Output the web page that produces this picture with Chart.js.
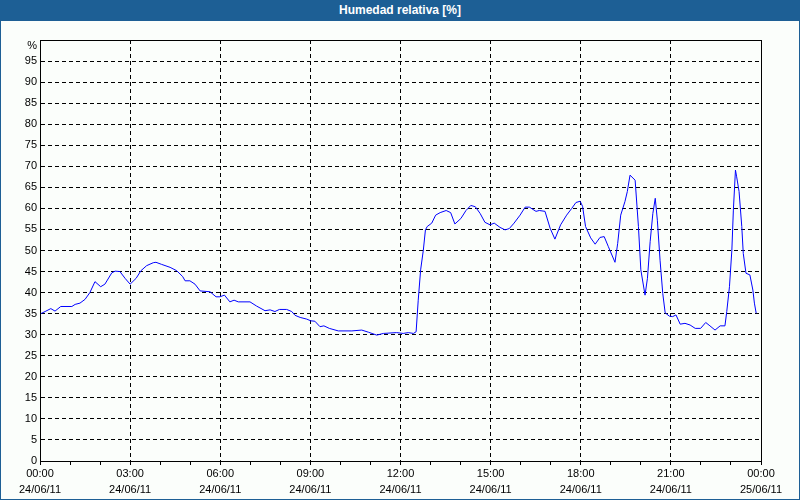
<!DOCTYPE html>
<html>
<head>
<meta charset="utf-8">
<script src="https://cdn.jsdelivr.net/npm/chart.js@4/dist/chart.umd.min.js"></script>
<style>
  html, body { margin: 0; padding: 0; background: #ffffff; }
  #wrap { position: relative; width: 800px; height: 500px; background: #fbfefb; box-sizing: border-box; border: 1px solid #1d5f95; border-top: none; }
  #bar { position: absolute; left: -1px; top: 0; width: 800px; height: 21px; background: #1d5f95; color: #ffffff;
         font: bold 12px "Liberation Sans", Arial, sans-serif; text-align: center; line-height: 21px; }
  #box { position: absolute; left: 0; top: 21px; width: 798px; height: 478px; }
</style>
</head>
<body>
<div id="wrap">
  <div id="bar">Humedad relativa [%]</div>
  <div id="box"><canvas id="c" width="798" height="478"></canvas></div>
</div>
<script>
// Time of each reading, in hours since 24/06/11 00:00
const hours = [
  0.00, 0.17, 0.36, 0.50, 0.69, 1.06, 1.17, 1.33, 1.50, 1.66, 1.83, 2.02, 2.16, 2.39, 2.50, 2.66, 2.83, 3.00,
  3.20, 3.36, 3.55, 3.77, 3.86, 4.05, 4.33, 4.55, 4.75, 4.83, 4.99, 5.16, 5.33, 5.66, 5.86, 5.99, 6.14, 6.32,
  6.46, 6.60, 6.99, 7.21, 7.49, 7.66, 7.82, 7.97, 8.21, 8.38, 8.49, 8.66, 8.88, 9.01, 9.15, 9.32, 9.45, 9.63,
  9.93, 10.38, 10.71, 10.93, 11.21, 11.43, 11.87, 12.09, 12.26, 12.43, 12.52, 12.59, 12.67, 12.76, 12.83, 12.89,
  13.04, 13.17, 13.32, 13.52, 13.67, 13.81, 14.01, 14.18, 14.34, 14.49, 14.65, 14.81, 14.98, 15.12, 15.31, 15.48,
  15.62, 15.78, 15.98, 16.15, 16.29, 16.51, 16.62, 16.81, 16.98, 17.14, 17.33, 17.53, 17.70, 17.84, 17.98, 18.06,
  18.16, 18.33, 18.48, 18.64, 18.78, 18.92, 19.14, 19.23, 19.33, 19.47, 19.55, 19.64, 19.81, 19.92, 20.00, 20.14,
  20.22, 20.31, 20.40, 20.48, 20.55, 20.64, 20.73, 20.81, 20.95, 21.06, 21.17, 21.31, 21.47, 21.64, 21.81, 21.99,
  22.16, 22.30, 22.47, 22.64, 22.80, 22.86, 22.95, 23.03, 23.08, 23.15, 23.19, 23.27, 23.36, 23.41, 23.50, 23.63,
  23.73, 23.78, 23.84
];
// Relative humidity (%)
const humidity = [
  34.9, 35.5, 36.2, 35.6, 36.7, 36.7, 37.2, 37.5, 38.4, 40.0, 42.6, 41.4, 42.0, 44.7, 45.1, 45.0, 43.4, 42.0,
  43.4, 45.2, 46.4, 47.1, 47.2, 46.7, 46.0, 45.2, 43.8, 42.8, 42.8, 42.0, 40.4, 40.2, 39.0, 39.0, 39.4, 37.8,
  38.2, 37.8, 37.8, 36.8, 35.7, 35.9, 35.5, 36.0, 36.0, 35.5, 34.6, 34.1, 33.7, 33.3, 33.2, 31.9, 32.1, 31.5,
  30.9, 30.9, 31.1, 30.6, 29.9, 30.3, 30.5, 30.3, 30.5, 30.3, 30.7, 38.2, 45.4, 50.1, 54.9, 55.7,
  56.5, 58.4, 59.0, 59.5, 59.0, 56.3, 57.6, 59.5, 60.7, 60.4, 58.8, 56.7, 56.1, 56.5, 55.5, 54.9,
  55.2, 56.5, 58.4, 60.3, 60.3, 59.3, 59.5, 59.3, 55.3, 52.7, 56.1, 58.4, 60.0, 61.4, 61.7, 60.5,
  55.7, 53.0, 51.5, 53.1, 53.3, 50.9, 47.2, 51.7, 58.4, 61.6, 64.0, 67.9, 66.7, 55.7, 45.4, 39.4,
  43.4, 52.1, 58.8, 62.4, 57.2, 47.7, 39.8, 35.2, 34.4, 34.3, 34.7, 32.5, 32.7, 32.3, 31.5, 31.5,
  32.9, 32.1, 31.1, 32.1, 32.1, 35.5, 41.4, 50.1, 59.6, 69.1, 67.5, 64.0, 55.7, 49.3, 44.6, 44.2,
  40.6, 37.5, 35.1
];
// Tick labels
const timeLabels = ['00:00', '03:00', '06:00', '09:00', '12:00', '15:00', '18:00', '21:00', '00:00'];
const dateLabels = ['24/06/11', '24/06/11', '24/06/11', '24/06/11', '24/06/11', '24/06/11', '24/06/11', '24/06/11', '25/06/11'];
const yUnitLabel = '%';

const FONT = '"Liberation Sans", Arial, sans-serif';

const framePlugin = {
  id: 'frame',
  afterDraw(chart) {
    const { ctx, chartArea: a } = chart;
    ctx.save();
    ctx.strokeStyle = '#000000';
    ctx.lineWidth = 1;
    ctx.strokeRect(Math.round(a.left) + 0.5, Math.round(a.top) + 0.5,
                   Math.round(a.right - a.left), Math.round(a.bottom - a.top));
    // unit label at the top of the value axis
    const ys = chart.scales.y;
    ctx.fillStyle = '#000000';
    ctx.font = '11px ' + FONT;
    ctx.textAlign = 'right';
    ctx.textBaseline = 'middle';
    ctx.fillText(yUnitLabel, a.left - 3, ys.getPixelForValue(100) + 6);
    ctx.restore();
  }
};

new Chart(document.getElementById('c'), {
  type: 'line',
  data: {
    datasets: [{
      data: hours.map((h, i) => ({ x: h, y: humidity[i] })),
      borderColor: '#0000ff',
      borderWidth: 1,
      pointRadius: 0,
      tension: 0,
      fill: false
    }]
  },
  options: {
    responsive: false,
    animation: false,
    events: [],
    layout: { padding: { left: 0, top: 19, right: 38, bottom: 0 } },
    plugins: { legend: { display: false }, title: { display: false }, tooltip: { enabled: false } },
    scales: {
      x: {
        type: 'linear',
        min: 0, max: 24,
        afterFit(s) { s.height = 38; },
        ticks: {
          stepSize: 1,
          autoSkip: false,
          maxRotation: 0,
          padding: 1,
          color: '#000000',
          font: { family: FONT, size: 11, lineHeight: '16px' },
          callback(v) {
            if (v % 3 !== 0) return '';
            const i = v / 3;
            return [timeLabels[i], dateLabels[i]];
          }
        },
        grid: {
          color(ctx) {
            const v = ctx.tick ? ctx.tick.value : 0;
            return (v % 3 === 0 && v !== 0 && v !== 24) ? '#000000' : 'rgba(0,0,0,0)';
          },
          lineWidth: 1,
          tickColor: '#000000',
          tickLength: 4,
          tickBorderDash: [],
          drawTicks: true
        },
        border: { display: true, color: '#000000', width: 1, dash: [4, 3] }
      },
      y: {
        type: 'linear',
        min: 0, max: 100,
        afterFit(s) { s.width = 39; },
        ticks: {
          stepSize: 5,
          padding: 3,
          color: '#000000',
          font: { family: FONT, size: 11 },
          callback(v) { return v === 100 ? '' : String(v); }
        },
        grid: {
          color(ctx) {
            const v = ctx.tick ? ctx.tick.value : 0;
            return (v !== 0 && v !== 100) ? '#000000' : 'rgba(0,0,0,0)';
          },
          lineWidth: 1,
          drawTicks: false
        },
        border: { display: true, color: '#000000', width: 1, dash: [4, 3] }
      }
    }
  },
  plugins: [framePlugin]
});
</script>
</body>
</html>
